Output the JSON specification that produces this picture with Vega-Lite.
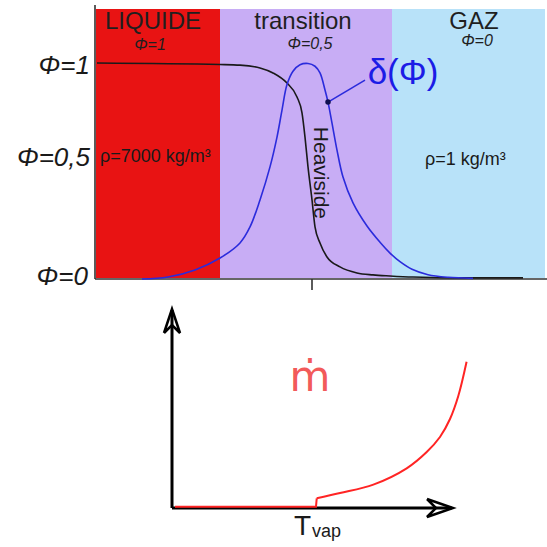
{
  "$schema": "https://vega.github.io/schema/vega-lite/v6.json",
  "padding": 0,
  "spacing": 0,
  "background": "white",
  "config": {"view": {"stroke": null}, "font": "Liberation Sans"},
  "vconcat": [
    {
      "width": 547,
      "height": 300,
      "layer": [
        {
          "data": {"values": [
            {"zone": "liquide", "u0": -5.4, "u1": -2.3, "p0": 0.005, "p1": 1.25},
            {"zone": "transition", "u0": -2.3, "u1": 2.0, "p0": 0.005, "p1": 1.25},
            {"zone": "gaz", "u0": 2.0, "u1": 5.825, "p0": 0.005, "p1": 1.25}
          ]},
          "mark": {"type": "rect"},
          "encoding": {
            "x": {"field": "u0", "type": "quantitative", "scale": {"domain": [-7.8, 5.875], "nice": false, "zero": false}, "axis": null},
            "x2": {"field": "u1"},
            "y": {"field": "p0", "type": "quantitative", "scale": {"domain": [-0.09722, 1.29167], "nice": false, "zero": false}, "axis": null},
            "y2": {"field": "p1"},
            "color": {"field": "zone", "type": "nominal", "scale": {"domain": ["liquide", "transition", "gaz"], "range": ["#e81313", "#c8adf5", "#b8e2f9"]}, "legend": null}
          }
        },
        {
          "data": {"values": [
            {"u": -5.425, "p": -0.0, "u2": -5.425, "p2": 1.2685},
            {"u": -5.425, "p": 0.0, "u2": 5.875, "p2": 0.0},
            {"u": 0.0, "p": 0.0, "u2": 0.0, "p2": -0.051}
          ]},
          "mark": {"type": "rule", "color": "#333333", "strokeWidth": 1.6},
          "encoding": {
            "x": {"field": "u", "type": "quantitative", "scale": {"domain": [-7.8, 5.875], "nice": false, "zero": false}, "axis": null},
            "x2": {"field": "u2"},
            "y": {"field": "p", "type": "quantitative", "scale": {"domain": [-0.09722, 1.29167], "nice": false, "zero": false}, "axis": null},
            "y2": {"field": "p2"}
          }
        },
        {
          "data": {"values": [
            {"u": -5.375, "p": 1.0},
            {"u": -2.3, "p": 0.993},
            {"u": -1.8, "p": 0.99},
            {"u": -1.3, "p": 0.977},
            {"u": -0.975, "p": 0.954},
            {"u": -0.625, "p": 0.907},
            {"u": -0.375, "p": 0.843},
            {"u": -0.25, "p": 0.769},
            {"u": -0.175, "p": 0.657},
            {"u": -0.1, "p": 0.519},
            {"u": 0.0, "p": 0.366},
            {"u": 0.075, "p": 0.241},
            {"u": 0.2, "p": 0.167},
            {"u": 0.375, "p": 0.102},
            {"u": 0.7, "p": 0.056},
            {"u": 1.125, "p": 0.028},
            {"u": 1.525, "p": 0.019},
            {"u": 1.95, "p": 0.014},
            {"u": 2.525, "p": 0.009},
            {"u": 3.95, "p": 0.005},
            {"u": 5.275, "p": 0.005}
          ]},
          "mark": {"type": "line", "strokeWidth": 1.6, "interpolate": "monotone", "color": "#1a1a1a"},
          "encoding": {
            "x": {"field": "u", "type": "quantitative", "scale": {"domain": [-7.8, 5.875], "nice": false, "zero": false}, "axis": null},
            "y": {"field": "p", "type": "quantitative", "scale": {"domain": [-0.09722, 1.29167], "nice": false, "zero": false}, "axis": null}
          }
        },
        {
          "data": {"values": [
            {"u": -4.25, "p": 0.0},
            {"u": -3.6, "p": 0.009},
            {"u": -2.925, "p": 0.042},
            {"u": -2.3, "p": 0.097},
            {"u": -1.8, "p": 0.167},
            {"u": -1.55, "p": 0.241},
            {"u": -1.3, "p": 0.366},
            {"u": -1.05, "p": 0.519},
            {"u": -0.875, "p": 0.657},
            {"u": -0.75, "p": 0.782},
            {"u": -0.625, "p": 0.9},
            {"u": -0.475, "p": 0.962},
            {"u": -0.3, "p": 0.992},
            {"u": -0.1, "p": 0.998},
            {"u": 0.075, "p": 0.985},
            {"u": 0.2, "p": 0.954},
            {"u": 0.325, "p": 0.875},
            {"u": 0.4, "p": 0.819},
            {"u": 0.5, "p": 0.722},
            {"u": 0.625, "p": 0.597},
            {"u": 0.775, "p": 0.472},
            {"u": 1.025, "p": 0.352},
            {"u": 1.375, "p": 0.245},
            {"u": 1.7, "p": 0.17},
            {"u": 1.95, "p": 0.12},
            {"u": 2.2, "p": 0.08},
            {"u": 2.5, "p": 0.045},
            {"u": 2.9, "p": 0.02},
            {"u": 3.4, "p": 0.008},
            {"u": 4.025, "p": 0.003}
          ]},
          "mark": {"type": "line", "strokeWidth": 1.6, "interpolate": "catmull-rom", "color": "#2b2bdc"},
          "encoding": {
            "x": {"field": "u", "type": "quantitative", "scale": {"domain": [-7.8, 5.875], "nice": false, "zero": false}, "axis": null},
            "y": {"field": "p", "type": "quantitative", "scale": {"domain": [-0.09722, 1.29167], "nice": false, "zero": false}, "axis": null}
          }
        },
        {
          "data": {"values": [{"u": 0.4, "p": 0.819, "u2": 1.325, "p2": 0.921}]},
          "mark": {"type": "rule", "color": "#2b2bdc", "strokeWidth": 1.6},
          "encoding": {
            "x": {"field": "u", "type": "quantitative", "scale": {"domain": [-7.8, 5.875], "nice": false, "zero": false}, "axis": null},
            "x2": {"field": "u2"},
            "y": {"field": "p", "type": "quantitative", "scale": {"domain": [-0.09722, 1.29167], "nice": false, "zero": false}, "axis": null},
            "y2": {"field": "p2"}
          }
        },
        {
          "data": {"values": [{"u": 0.4, "p": 0.819}]},
          "mark": {"type": "point", "filled": true, "color": "#101050", "size": 30, "opacity": 1},
          "encoding": {
            "x": {"field": "u", "type": "quantitative", "scale": {"domain": [-7.8, 5.875], "nice": false, "zero": false}, "axis": null},
            "y": {"field": "p", "type": "quantitative", "scale": {"domain": [-0.09722, 1.29167], "nice": false, "zero": false}, "axis": null}
          }
        },
        {
          "data": {"values": [
            {"t": "LIQUIDE", "u": -3.975, "p": 1.188},
            {"t": "transition", "u": -0.225, "p": 1.188},
            {"t": "GAZ", "u": 4.05, "p": 1.192}
          ]},
          "mark": {"type": "text", "fontSize": 24, "color": "#1f1f1f", "baseline": "middle", "align": "center"},
          "encoding": {
            "x": {"field": "u", "type": "quantitative", "scale": {"domain": [-7.8, 5.875], "nice": false, "zero": false}, "axis": null},
            "y": {"field": "p", "type": "quantitative", "scale": {"domain": [-0.09722, 1.29167], "nice": false, "zero": false}, "axis": null},
            "text": {"field": "t"}
          }
        },
        {
          "data": {"values": [
            {"t": "Φ=1", "u": -4.05, "p": 1.085},
            {"t": "Φ=0,5", "u": -0.05, "p": 1.09},
            {"t": "Φ=0", "u": 4.125, "p": 1.1}
          ]},
          "mark": {"type": "text", "fontSize": 16, "fontStyle": "italic", "color": "#1f1f1f", "baseline": "middle", "align": "center"},
          "encoding": {
            "x": {"field": "u", "type": "quantitative", "scale": {"domain": [-7.8, 5.875], "nice": false, "zero": false}, "axis": null},
            "y": {"field": "p", "type": "quantitative", "scale": {"domain": [-0.09722, 1.29167], "nice": false, "zero": false}, "axis": null},
            "text": {"field": "t"}
          }
        },
        {
          "data": {"values": [
            {"t": "Φ=1", "u": -5.55, "p": 0.986},
            {"t": "Φ=0,5", "u": -5.55, "p": 0.56},
            {"t": "Φ=0", "u": -5.6, "p": 0.009}
          ]},
          "mark": {"type": "text", "fontSize": 26, "fontStyle": "italic", "color": "#1a1a1a", "baseline": "middle", "align": "right"},
          "encoding": {
            "x": {"field": "u", "type": "quantitative", "scale": {"domain": [-7.8, 5.875], "nice": false, "zero": false}, "axis": null},
            "y": {"field": "p", "type": "quantitative", "scale": {"domain": [-0.09722, 1.29167], "nice": false, "zero": false}, "axis": null},
            "text": {"field": "t"}
          }
        },
        {
          "data": {"values": [
            {"t": "ρ=7000 kg/m³", "u": -5.3, "p": 0.565},
            {"t": "ρ=1 kg/m³", "u": 2.825, "p": 0.551}
          ]},
          "mark": {"type": "text", "fontSize": 18, "color": "#1a1a1a", "baseline": "middle", "align": "left"},
          "encoding": {
            "x": {"field": "u", "type": "quantitative", "scale": {"domain": [-7.8, 5.875], "nice": false, "zero": false}, "axis": null},
            "y": {"field": "p", "type": "quantitative", "scale": {"domain": [-0.09722, 1.29167], "nice": false, "zero": false}, "axis": null},
            "text": {"field": "t"}
          }
        },
        {
          "data": {"values": [{"t": "δ(Φ)", "u": 2.275, "p": 0.954}]},
          "mark": {"type": "text", "fontSize": 35, "color": "#1c1ce6", "baseline": "middle", "align": "center"},
          "encoding": {
            "x": {"field": "u", "type": "quantitative", "scale": {"domain": [-7.8, 5.875], "nice": false, "zero": false}, "axis": null},
            "y": {"field": "p", "type": "quantitative", "scale": {"domain": [-0.09722, 1.29167], "nice": false, "zero": false}, "axis": null},
            "text": {"field": "t"}
          }
        },
        {
          "data": {"values": [{"t": "Heaviside", "u": 0.2, "p": 0.491}]},
          "mark": {"type": "text", "fontSize": 21, "angle": 90, "color": "#1a1a1a", "baseline": "middle", "align": "center"},
          "encoding": {
            "x": {"field": "u", "type": "quantitative", "scale": {"domain": [-7.8, 5.875], "nice": false, "zero": false}, "axis": null},
            "y": {"field": "p", "type": "quantitative", "scale": {"domain": [-0.09722, 1.29167], "nice": false, "zero": false}, "axis": null},
            "text": {"field": "t"}
          }
        }
      ]
    },
    {
      "width": 547,
      "height": 247,
      "layer": [
        {
          "data": {"values": [
            {"T": 0.0, "m": 0.0, "T2": 0.0, "m2": 9.9},
            {"T": 0.0, "m": 0.0, "T2": 9.78, "m2": 0.0}
          ]},
          "mark": {"type": "rule", "color": "#000000", "strokeWidth": 3},
          "encoding": {
            "x": {"field": "T", "type": "quantitative", "scale": {"domain": [-6.014, 13.112], "nice": false, "zero": false}, "axis": null},
            "x2": {"field": "T2"},
            "y": {"field": "m", "type": "quantitative", "scale": {"domain": [-1.95, 10.4], "nice": false, "zero": false}, "axis": null},
            "y2": {"field": "m2"}
          }
        },
        {
          "data": {"values": [
            {"arrow": "v", "o": 0, "T": -0.28, "m": 8.75},
            {"arrow": "v", "o": 1, "T": 0.0, "m": 9.95},
            {"arrow": "v", "o": 2, "T": 0.28, "m": 8.75},
            {"arrow": "v", "o": 3, "T": 0.0, "m": 9.15},
            {"arrow": "v", "o": 4, "T": -0.28, "m": 8.75},
            {"arrow": "h", "o": 0, "T": 8.916, "m": 0.45},
            {"arrow": "h", "o": 1, "T": 9.825, "m": 0.0},
            {"arrow": "h", "o": 2, "T": 8.916, "m": -0.45},
            {"arrow": "h", "o": 3, "T": 9.23, "m": 0.0},
            {"arrow": "h", "o": 4, "T": 8.916, "m": 0.45}
          ]},
          "mark": {"type": "line", "color": "#000000", "strokeWidth": 2.5, "strokeJoin": "miter"},
          "encoding": {
            "x": {"field": "T", "type": "quantitative", "scale": {"domain": [-6.014, 13.112], "nice": false, "zero": false}, "axis": null},
            "y": {"field": "m", "type": "quantitative", "scale": {"domain": [-1.95, 10.4], "nice": false, "zero": false}, "axis": null},
            "detail": {"field": "arrow"},
            "order": {"field": "o"}
          }
        },
        {
          "data": {"values": [
            {"o": 0, "T": 0.105, "m": 0.065},
            {"o": 1, "T": 5.035, "m": 0.065},
            {"o": 2, "T": 5.06, "m": 0.485}
          ]},
          "mark": {"type": "line", "color": "#ff2424", "strokeWidth": 2},
          "encoding": {
            "x": {"field": "T", "type": "quantitative", "scale": {"domain": [-6.014, 13.112], "nice": false, "zero": false}, "axis": null},
            "y": {"field": "m", "type": "quantitative", "scale": {"domain": [-1.95, 10.4], "nice": false, "zero": false}, "axis": null},
            "order": {"field": "o"}
          }
        },
        {
          "data": {"values": [
            {"o": 0, "T": 5.06, "m": 0.485},
            {"o": 1, "T": 5.874, "m": 0.75},
            {"o": 2, "T": 7.04, "m": 1.17},
            {"o": 3, "T": 8.206, "m": 1.985},
            {"o": 4, "T": 8.906, "m": 2.8},
            {"o": 5, "T": 9.37, "m": 3.55},
            {"o": 6, "T": 9.72, "m": 4.45},
            {"o": 7, "T": 10.01, "m": 5.6},
            {"o": 8, "T": 10.3, "m": 7.315}
          ]},
          "mark": {"type": "line", "color": "#ff2424", "strokeWidth": 2, "interpolate": "catmull-rom"},
          "encoding": {
            "x": {"field": "T", "type": "quantitative", "scale": {"domain": [-6.014, 13.112], "nice": false, "zero": false}, "axis": null},
            "y": {"field": "m", "type": "quantitative", "scale": {"domain": [-1.95, 10.4], "nice": false, "zero": false}, "axis": null},
            "order": {"field": "o"}
          }
        },
        {
          "data": {"values": [{"t": "ṁ", "T": 4.825, "m": 6.5}]},
          "mark": {"type": "text", "fontSize": 42, "color": "#f25a5a", "baseline": "middle", "align": "center", "font": "DejaVu Sans"},
          "encoding": {
            "x": {"field": "T", "type": "quantitative", "scale": {"domain": [-6.014, 13.112], "nice": false, "zero": false}, "axis": null},
            "y": {"field": "m", "type": "quantitative", "scale": {"domain": [-1.95, 10.4], "nice": false, "zero": false}, "axis": null},
            "text": {"field": "t"}
          }
        },
        {
          "data": {"values": [{"t": "T", "T": 4.563, "m": -0.95}]},
          "mark": {"type": "text", "fontSize": 28, "color": "#1a1a1a", "baseline": "middle", "align": "center"},
          "encoding": {
            "x": {"field": "T", "type": "quantitative", "scale": {"domain": [-6.014, 13.112], "nice": false, "zero": false}, "axis": null},
            "y": {"field": "m", "type": "quantitative", "scale": {"domain": [-1.95, 10.4], "nice": false, "zero": false}, "axis": null},
            "text": {"field": "t"}
          }
        },
        {
          "data": {"values": [{"t": "vap", "T": 4.895, "m": -1.425}]},
          "mark": {"type": "text", "fontSize": 18, "color": "#1a1a1a", "baseline": "alphabetic", "align": "left"},
          "encoding": {
            "x": {"field": "T", "type": "quantitative", "scale": {"domain": [-6.014, 13.112], "nice": false, "zero": false}, "axis": null},
            "y": {"field": "m", "type": "quantitative", "scale": {"domain": [-1.95, 10.4], "nice": false, "zero": false}, "axis": null},
            "text": {"field": "t"}
          }
        }
      ]
    }
  ]
}
